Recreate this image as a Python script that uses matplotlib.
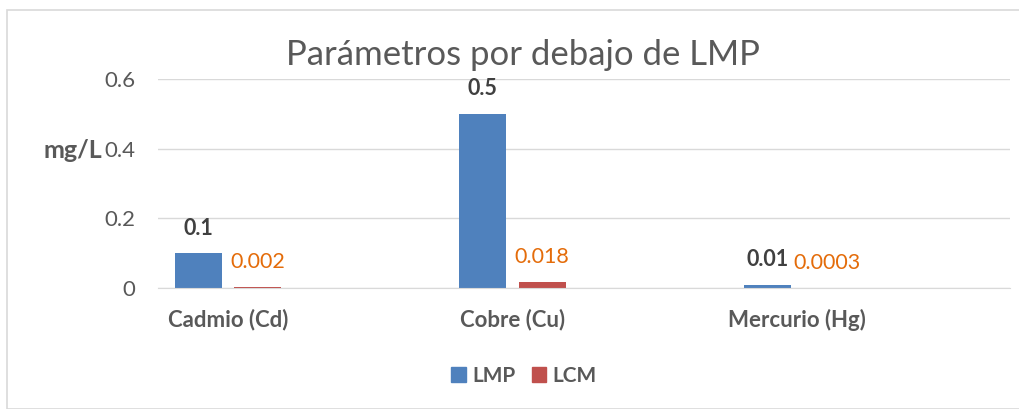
import numpy as np
import matplotlib
matplotlib.use("Agg")
import matplotlib.pyplot as plt
from matplotlib.patches import Rectangle, Patch

categories = ["Cadmio (Cd)", "Cobre (Cu)", "Mercurio (Hg)"]
lmp = [0.1, 0.5, 0.01]
lcm = [0.002, 0.018, 0.0003]
lmp_labels = ["0.1", "0.5", "0.01"]
lcm_labels = ["0.002", "0.018", "0.0003"]
yticks = [0, 0.2, 0.4, 0.6]
ytick_labels = ["0", "0.2", "0.4", "0.6"]

BLUE = "#4F81BD"
RED = "#C0504D"
ORANGE = "#E46C0A"
GRAY = "#595959"
GRID = "#D9D9D9"

plt.rcParams["font.family"] = ["Lato", "DejaVu Sans"]

W, H = 1020, 409
fig = plt.figure(figsize=(W / 100, H / 100), dpi=100)

# chart border
fig.patches.append(Rectangle((7 / W, 0), 1.2, 1 - 10 / H, transform=fig.transFigure,
                             fill=False, edgecolor=GRID, linewidth=1.2))

ax = fig.add_axes([158 / W, 1 - 288 / H, (1010 - 158) / W, (288 - 79) / H])

x = np.arange(len(categories))
bw = 0.165
off = 0.104
ax.bar(x - off, lmp, bw, color=BLUE, label="LMP")
ax.bar(x + off, lcm, bw, color=RED, label="LCM")

for xi, v, t in zip(x, lmp, lmp_labels):
    ax.annotate(t, (xi - off, v), xytext=(0, 18), textcoords="offset points",
                ha="center", va="center", fontsize=15.5, fontweight="bold", color="#404040")
for xi, v, t in zip(x, lcm, lcm_labels):
    ax.annotate(t, (xi + off, v), xytext=(0, 18), textcoords="offset points",
                ha="center", va="center", fontsize=15.5, color=ORANGE)

ax.set_xlim(-0.246, 2.749)
ax.set_ylim(0, 0.6)
ax.set_yticks(yticks)
ax.set_yticklabels(ytick_labels, fontsize=16, color=GRAY)
ax.set_xticks(x)
ax.set_xticklabels(categories, fontsize=16, fontweight="bold", color=GRAY)
ax.tick_params(axis="y", length=0, pad=16.5)
ax.tick_params(axis="x", length=0, pad=15)
ax.grid(axis="y", color=GRID, linewidth=1)
ax.set_axisbelow(True)
for s in ["top", "right", "left"]:
    ax.spines[s].set_visible(False)
ax.spines["bottom"].set_color(GRID)

fig.text(523 / W, 1 - 55 / H, "Parámetros por debajo de LMP", ha="center", va="center",
         fontsize=25, color=GRAY)
fig.text(73 / W, 1 - 150 / H, "mg/L", ha="center", va="center",
         fontsize=18, fontweight="bold", color=GRAY)

handles = [Patch(color=BLUE, label="LMP"), Patch(color=RED, label="LCM")]
leg = fig.legend(handles=handles, loc="center", bbox_to_anchor=(524 / W, 1 - 376 / H),
                 ncol=2, frameon=False, handlelength=0.7, handleheight=0.7,
                 handletextpad=0.3, columnspacing=0.8,
                 prop={"size": 15, "weight": "bold"})
for t in leg.get_texts():
    t.set_color(GRAY)

fig.savefig("out.png", dpi=100)
